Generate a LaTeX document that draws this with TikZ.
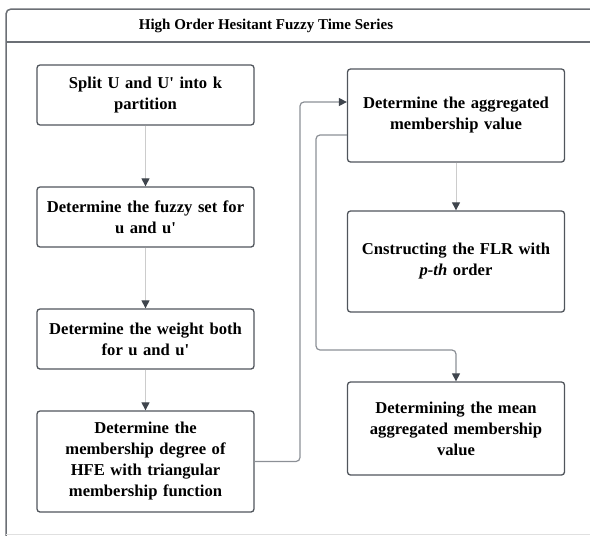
\documentclass[tikz,border=0pt]{standalone}
\usepackage{fontspec}
\newfontfamily\lsf{Liberation Serif}
\usetikzlibrary{arrows.meta,calc}
\definecolor{boxline}{HTML}{50555C}
\definecolor{frameline}{HTML}{6B6F75}
\definecolor{longline}{HTML}{8C9096}
\definecolor{shortline}{HTML}{CCCCCC}
\definecolor{tipdark}{HTML}{3F454D}
\begin{document}
\begin{tikzpicture}[x=1pt,y=-1pt,
  stepbox/.style={draw=boxline,line width=1.3pt,rounded corners=3pt,minimum width=217pt,
    text width=217pt,inner sep=0pt,align=center,font=\lsf\fontsize{16.6}{21}\selectfont\bfseries},
  shortarrow/.style={draw=shortline,line width=1pt,-{Triangle[length=8pt,width=8pt,color=tipdark]}},
  longarrow/.style={draw=longline,line width=1.2pt,rounded corners=4pt,-{Triangle[length=8pt,width=8pt,color=tipdark]}},
  longline/.style={draw=longline,line width=1.2pt,rounded corners=4pt}]
\useasboundingbox (0,0) rectangle (590,536);
% frame
\draw[frameline,line width=1.5pt,rounded corners=5pt] (600,9) -- (6,9) -- (6,545);
\draw[frameline,line width=1.5pt] (6,42) -- (600,42);
\draw[shortline!60,line width=1pt] (6,534.5) -- (600,534.5);
\node[font=\lsf\fontsize{15}{18}\selectfont\bfseries] (title) at (266,25.5) {High Order Hesitant Fuzzy Time Series};
% left column
\node[stepbox,minimum height=60pt] (b1) at (145.5,95) {Split U and U' into k\\partition};
\node[stepbox,minimum height=60pt] (b2) at (145.5,217) {Determine the fuzzy set for\\u and u'};
\node[stepbox,minimum height=60pt] (b3) at (145.5,339) {Determine the weight both\\for u and u'};
\node[stepbox,minimum height=101pt] (b4) at (145.5,461.5) {Determine the\\membership degree of\\HFE with triangular\\membership function};
% right column
\node[stepbox,minimum height=93pt] (b5) at (456,115.5) {Determine the aggregated\\membership value};
\node[stepbox,minimum height=101pt] (b6) at (456,261.5) {Cnstructing the FLR with\\\textit{p-th} order};
\node[stepbox,minimum height=93pt] (b7) at (456,428.5) {Determining the mean\\aggregated membership\\value};
% short arrows
\draw[shortarrow] (b1) -- (b2);
\draw[shortarrow] (b2) -- (b3);
\draw[shortarrow] (b3) -- (b4);
\draw[shortarrow] (b5) -- (b6);
% long connectors
\coordinate (in5) at ($(b5.west)+(0,-13.5)$);
\coordinate (out5) at ($(b5.west)+(0,19.5)$);
\draw[longarrow] (b4.east) -- (300,461.5) -- (300,102) -- (in5);
\draw[longarrow] (out5) -- (316,135) -- (316,350) -- (456,350) -- (b7.north);
\end{tikzpicture}
\end{document}
